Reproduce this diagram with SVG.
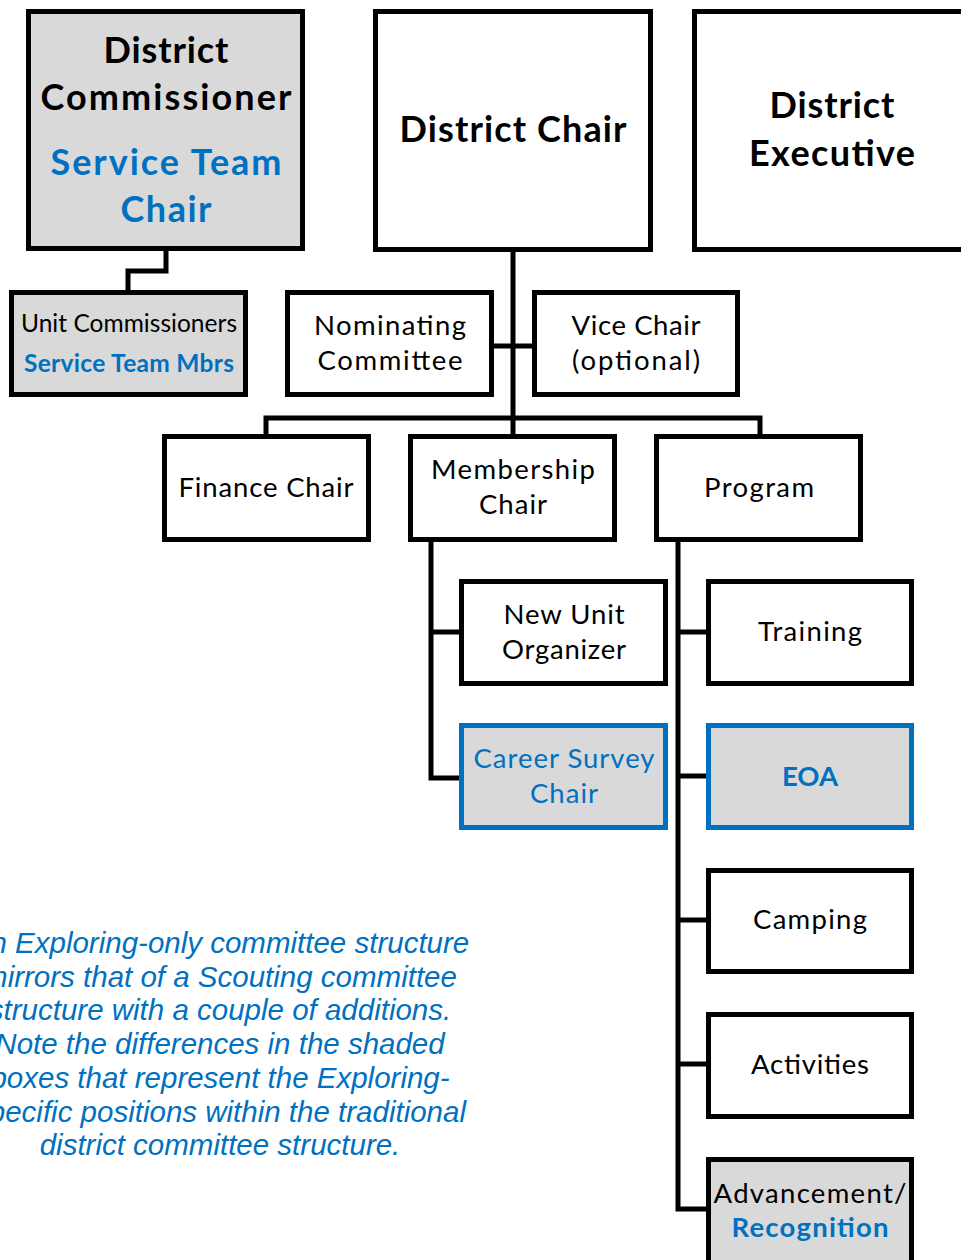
<svg xmlns="http://www.w3.org/2000/svg" width="961" height="1260" viewBox="0 0 961 1260">
<style>
.box{fill:#fff;stroke:#000;stroke-width:5}
.gray{fill:#d9d9d9;stroke:#000;stroke-width:5}
.blue{fill:#d9d9d9;stroke:#0070c0;stroke-width:5}
.conn{fill:none;stroke:#000;stroke-width:5}
text{font-family:Lato,"Noto Sans",sans-serif;text-anchor:middle;fill:#000}
.big{font-size:36px;font-weight:bold}
.med{font-size:27.5px}
.sm{font-size:24.5px}
.b{font-weight:bold}
.bl{fill:#0070c0}
.note{font-family:"Liberation Sans",Arial,sans-serif;font-style:italic;font-size:29.5px;fill:#0070c0}
</style>
<rect width="961" height="1260" fill="#fff"/>
<g id="connectors">
<path class="conn" d="M166,251 V271 H128 V292"/>
<path class="conn" d="M513,251 V436"/>
<path class="conn" d="M494,346 H533"/>
<path class="conn" d="M266,436 V418 H760 V436"/>
<path class="conn" d="M431,541 V778 H461 M431,632 H461"/>
<path class="conn" d="M678,541 V1209 H708 M678,632 H708 M678,776 H708 M678,920 H708 M678,1064 H708"/>
</g>
<g id="district-commissioner">
<rect class="gray" x="28.5" y="11.5" width="274" height="237"/>
<text class="big" x="166" y="63" textLength="125">District</text>
<text class="big" x="166" y="110" textLength="251">Commissioner</text>
<text class="big bl" x="166" y="175" textLength="231">Service Team</text>
<text class="big bl" x="166" y="222" textLength="91">Chair</text>
</g>
<g id="district-chair">
<rect class="box" x="375.5" y="11.5" width="275" height="238"/>
<text class="big" x="513" y="142" textLength="227">District Chair</text>
</g>
<g id="district-executive">
<rect class="box" x="694.5" y="11.5" width="300" height="238"/>
<text class="big" x="832" y="118" textLength="125">District</text>
<text class="big" x="832" y="166" textLength="166">Executive</text>
</g>
<g id="unit-commissioners">
<rect class="gray" x="11.5" y="292.5" width="234" height="102"/>
<text class="sm" x="129" y="332" textLength="216">Unit Commissioners</text>
<text class="sm b bl" x="129" y="372" textLength="210">Service Team Mbrs</text>
</g>
<g id="nominating-committee">
<rect class="box" x="287.5" y="292.5" width="204" height="102"/>
<text class="med" x="390" y="335" textLength="152">Nominating</text>
<text class="med" x="390" y="370" textLength="145">Committee</text>
</g>
<g id="vice-chair">
<rect class="box" x="534.5" y="292.5" width="203" height="102"/>
<text class="med" x="636" y="335" textLength="129">Vice Chair</text>
<text class="med" x="636" y="370" textLength="128">(optional)</text>
</g>
<g id="finance-chair">
<rect class="box" x="164.5" y="436.5" width="204" height="103"/>
<text class="med" x="266" y="497" textLength="175">Finance Chair</text>
</g>
<g id="membership-chair">
<rect class="box" x="410.5" y="436.5" width="204" height="103"/>
<text class="med" x="513" y="479" textLength="164">Membership</text>
<text class="med" x="513" y="514" textLength="68">Chair</text>
</g>
<g id="program">
<rect class="box" x="656.5" y="436.5" width="204" height="103"/>
<text class="med" x="759" y="497" textLength="110">Program</text>
</g>
<g id="new-unit-organizer">
<rect class="box" x="461.5" y="581.5" width="204" height="102"/>
<text class="med" x="564" y="624" textLength="121">New Unit</text>
<text class="med" x="564" y="659" textLength="124">Organizer</text>
</g>
<g id="career-survey-chair">
<rect class="blue" x="461.5" y="725.5" width="204" height="102"/>
<text class="med bl" x="564" y="768" textLength="181">Career Survey</text>
<text class="med bl" x="564" y="803" textLength="68">Chair</text>
</g>
<g id="training">
<rect class="box" x="708.5" y="581.5" width="203" height="102"/>
<text class="med" x="810" y="641" textLength="104">Training</text>
</g>
<g id="eoa">
<rect class="blue" x="708.5" y="725.5" width="203" height="102"/>
<text class="med b bl" x="810" y="786" textLength="56">EOA</text>
</g>
<g id="camping">
<rect class="box" x="708.5" y="870.5" width="203" height="101"/>
<text class="med" x="810" y="929" textLength="114">Camping</text>
</g>
<g id="activities">
<rect class="box" x="708.5" y="1014.5" width="203" height="102"/>
<text class="med" x="810" y="1074" textLength="118">Activities</text>
</g>
<g id="advancement-recognition">
<rect class="gray" x="708.5" y="1159.5" width="203" height="110"/>
<text class="med" x="810" y="1203" textLength="193">Advancement/</text>
<text class="med b bl" x="810" y="1237" textLength="157">Recognition</text>
</g>
<g id="note">
<text class="note" x="220" y="953">An Exploring-only committee structure</text>
<text class="note" x="220" y="987">mirrors that of a Scouting committee</text>
<text class="note" x="220" y="1020">structure with a couple of additions.</text>
<text class="note" x="220" y="1054">Note the differences in the shaded</text>
<text class="note" x="220" y="1088">boxes that represent the Exploring-</text>
<text class="note" x="220" y="1122">specific positions within the traditional</text>
<text class="note" x="220" y="1155">district committee structure.</text>
</g>
</svg>
